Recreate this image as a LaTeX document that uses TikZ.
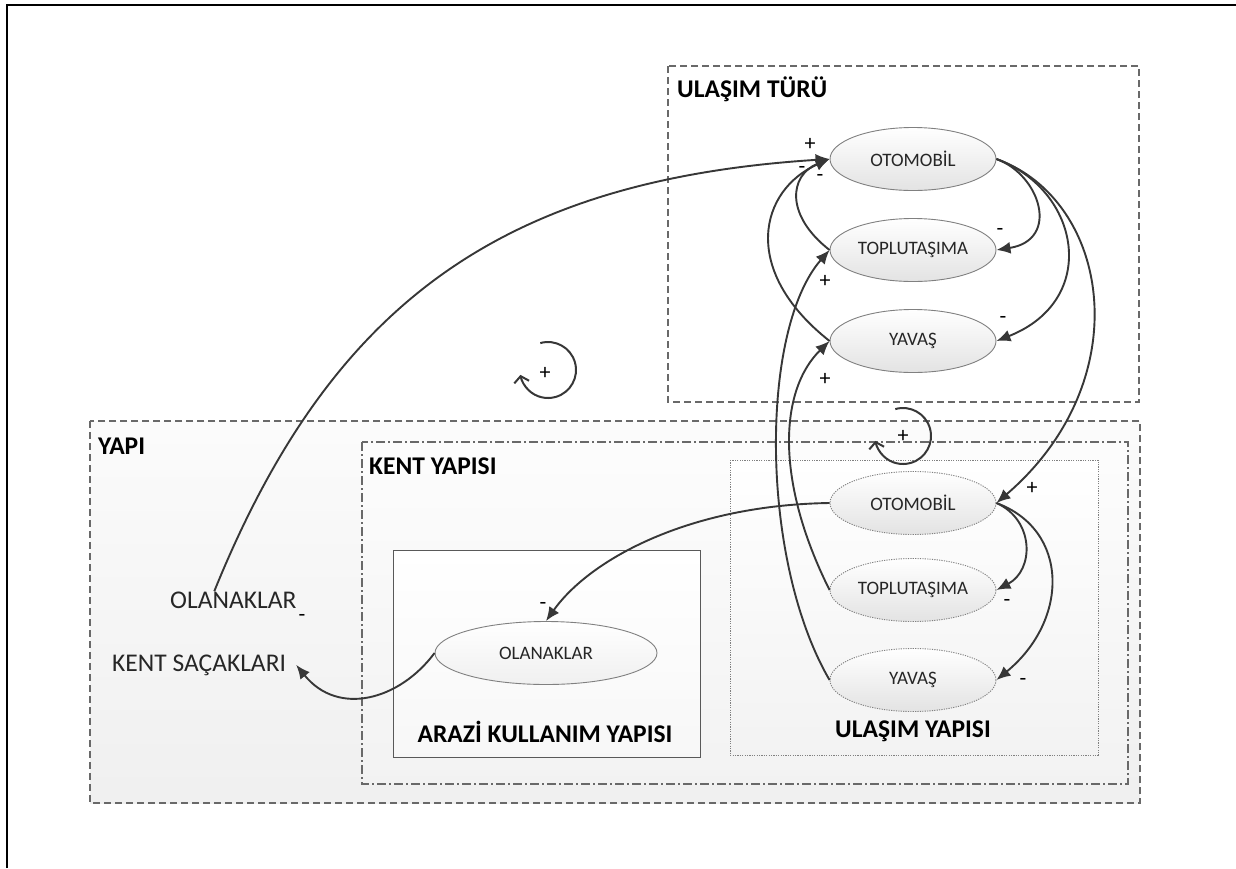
\documentclass[tikz,border=0pt]{standalone}
\usepackage{fontspec}
\setmainfont{Carlito}
\usetikzlibrary{arrows.meta, shapes.geometric}
\definecolor{colLine}{RGB}{55,55,55}
\definecolor{colFrame}{RGB}{105,105,105}

\begin{document}
\begin{tikzpicture}[x=1pt, y=-1pt,
  grp/.style={draw=colFrame, line width=1.1pt},
  oval/.style={ellipse, draw=gray, line width=0.9pt, minimum width=166pt,
               minimum height=63pt, inner sep=0pt, top color=white,
               bottom color=gray!22, font=\fontsize{19}{22}\selectfont, text=black!85},
  ttl/.style={anchor=base west, inner sep=0pt, font=\fontsize{25.5}{30}\selectfont\bfseries},
  txt/.style={anchor=base west, inner sep=0pt, font=\fontsize{25.5}{30}\selectfont, text=black!85},
  sgn/.style={inner sep=0pt, font=\fontsize{22}{24}\selectfont},
  arr/.style={-{Latex[length=14pt, width=12pt]}, line width=1.9pt, draw=colLine},
  rot/.style={-{Straight Barb[length=6pt, width=15pt]}, line width=2pt, draw=colLine},
]
\useasboundingbox (0,0) rectangle (1236,868);
\draw[line width=2.5pt] (7,868) -- (7,5) -- (1236,5);

% group boxes
\draw[grp, dash pattern=on 7pt off 4pt, fill=white] (668,66) rectangle (1139,402);
\draw[grp, dash pattern=on 7pt off 4pt, top color=gray!3, bottom color=gray!12] (90,421) rectangle (1140,803);
\draw[grp, dash pattern=on 9pt off 3pt on 2pt off 3pt, top color=gray!2, bottom color=gray!10] (362,442) rectangle (1128,784);
\draw[draw=gray!70!black, line width=1pt, top color=white, bottom color=gray!6] (393,550) rectangle (700,757);
\draw[draw=gray, line width=1pt, dash pattern=on 1.2pt off 1.2pt, top color=white, bottom color=gray!10] (730,460) rectangle (1098,755);

\node[ttl] (tTuru) at (677,97) {ULAŞIM TÜRÜ};
\node[ttl] (tYapi) at (98,454) {YAPI};
\node[ttl] (tKent) at (369,474) {KENT YAPISI};
\node[ttl, anchor=base] (tArazi) at (545,742) {ARAZİ KULLANIM YAPISI};
\node[ttl, anchor=base] (tUlasim) at (913,737) {ULAŞIM YAPISI};

% ulasim turu
\node[oval] (oto1) at (913,159) {OTOMOBİL};
\node[oval] (top1) at (913,250) {TOPLUTAŞIMA};
\node[oval] (yav1) at (913,341) {YAVAŞ};

% ulasim yapisi
\node[oval, dash pattern=on 1.2pt off 1.2pt] (oto2) at (913,503) {OTOMOBİL};
\node[oval, dash pattern=on 1.2pt off 1.2pt] (top2) at (913,590) {TOPLUTAŞIMA};
\node[oval, dash pattern=on 1.2pt off 1.2pt] (yav2) at (913,680) {YAVAŞ};

% arazi kullanim
\node[oval, minimum width=222pt, bottom color=gray!12] (olk2) at (546,653) {OLANAKLAR};

\node[txt] (olk) at (170,608) {OLANAKLAR};
\node[txt] (ksac) at (112,671) {KENT SAÇAKLARI};

% links
\draw[arr] ([xshift=-19pt]olk.north) .. controls +(116,-286) and +(-330,21) .. (oto1.west);
\draw[arr] (top1.west) .. controls +(-45,-35) and +(-40,16) .. (oto1.west);
\draw[arr] (yav1.west) .. controls +(-90,-71) and +(-70,31) .. (oto1.west);
\draw[arr] (yav2.west) .. controls +(-70,-120) and +(-70,80) .. (top1.west);
\draw[arr] (top2.west) .. controls +(-55,-110) and +(-50,49) .. (yav1.west);
\draw[arr] (oto1.east) .. controls +(44,16) and +(64,-10) .. (top1.east);
\draw[arr] (oto1.east) .. controls +(84,31) and +(104,-41) .. (yav1.east);
\draw[arr] (oto1.east) .. controls +(114,41) and +(143,-123) .. (oto2.east);
\draw[arr] (oto2.east) .. controls +(38,17) and +(38,-20) .. (top2.east);
\draw[arr] (oto2.east) .. controls +(73,27) and +(73,-60) .. (yav2.east);
\draw[arr] (oto2.west) .. controls +(-140,2) and +(44,-62) .. (olk2.north);
\draw[arr] (olk2.west) .. controls +(-35,47) and +(42,52) .. ([xshift=10pt]ksac.east);

% signs
\node[sgn] (s1) at (810,144) {+};
\node[sgn] (s2) at (802,170) {-};
\node[sgn] (s3) at (820,178) {-};
\node[sgn] (s4) at (1000,232) {-};
\node[sgn] (s5) at (1003,320) {-};
\node[sgn] (s6) at (825,281) {+};
\node[sgn] (s7) at (825,379) {+};
\node[sgn] (s8) at (1032,488) {+};
\node[sgn] (s9) at (1007,603) {-};
\node[sgn] (s10) at (1023,682) {-};
\node[sgn] (s11) at (543,606) {-};
\node[sgn] (s12) at (302,618) {-};

% feedback loops
\node[sgn] (lp1) at (545,373) {+};
\draw[rot] (548,370) ++(254:28) arc[start angle=254, end angle=530, radius=28];
\node[sgn] (lp2) at (903,436) {+};
\draw[rot] (903,436) ++(254:28) arc[start angle=254, end angle=530, radius=28];

\end{tikzpicture}
\end{document}
